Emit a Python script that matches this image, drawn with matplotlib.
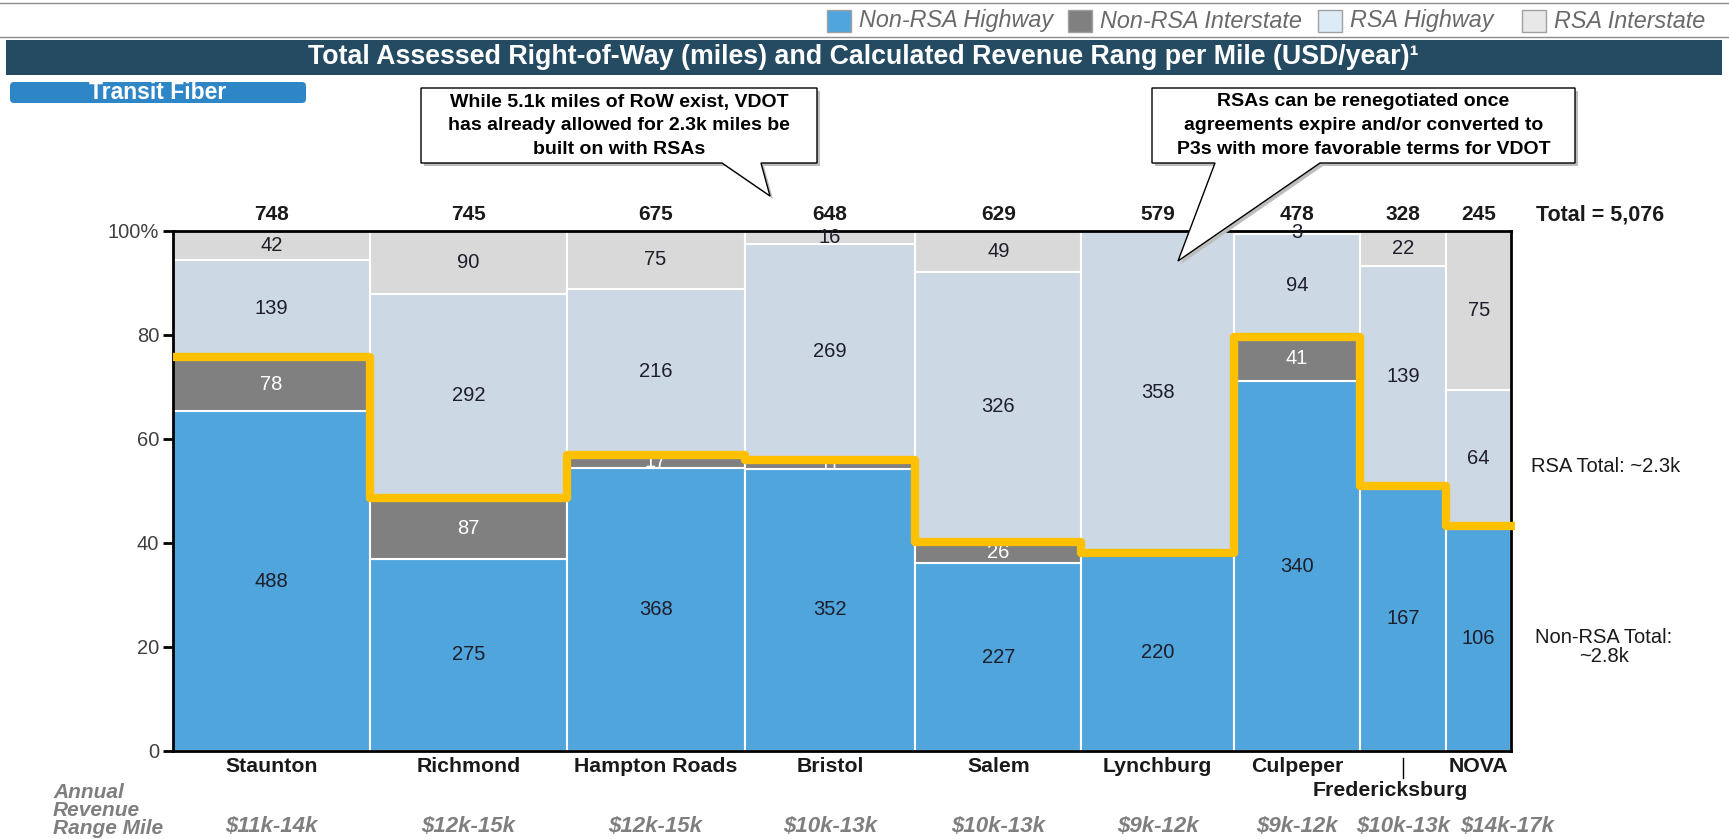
import matplotlib.pyplot as plt
from matplotlib.patches import Rectangle, Polygon, FancyBboxPatch
from matplotlib.transforms import blended_transform_factory

plt.rcParams['font.family'] = ['Liberation Sans', 'DejaVu Sans']

regions = ["Staunton", "Richmond", "Hampton Roads", "Bristol", "Salem",
           "Lynchburg", "Culpeper", "Fredericksburg", "NOVA"]
totals = [748, 745, 675, 648, 629, 579, 478, 328, 245]
non_rsa_highway = [488, 275, 368, 352, 227, 220, 340, 167, 106]
non_rsa_interstate = [78, 87, 17, 11, 26, 0, 41, 0, 0]
rsa_highway = [139, 292, 216, 269, 326, 358, 94, 139, 64]
rsa_interstate = [42, 90, 75, 16, 49, 0, 3, 22, 75]
revenue_range = ["$11k-14k", "$12k-15k", "$12k-15k", "$10k-13k", "$10k-13k",
                 "$9k-12k", "$9k-12k", "$10k-13k", "$14k-17k"]
series_names = ["Non-RSA Highway", "Non-RSA Interstate", "RSA Highway", "RSA Interstate"]

bar_colors = ["#4FA5DC", "#808080", "#CCD8E3", "#D9D9D9"]
legend_colors = ["#4FA5DC", "#808080", "#DDEBF7", "#E8E8E8"]
label_colors = ["#1E1E2A", "white", "#1E1E2A", "#1E1E2A"]

# small pixel nudges for crowded labels at the right end
name_nudge = {"Fredericksburg": -13}
revenue_nudge = {"NOVA": 28}

W, H = 1729, 839
fig = plt.figure(figsize=(W / 100, H / 100), dpi=100)
ax = fig.add_axes([173 / W, 1 - 751 / H, 1338 / W, 520 / H])

series = [non_rsa_highway, non_rsa_interstate, rsa_highway, rsa_interstate]
lefts = []
x = 0
for t in totals:
    lefts.append(x)
    x += t
grand = x

for i in range(len(regions)):
    seg_sum = sum(s[i] for s in series)
    bottom = 0
    for k, s in enumerate(series):
        v = s[i]
        if v == 0:
            continue
        h = v / seg_sum * 100
        ax.bar(lefts[i], h, totals[i], bottom=bottom, align="edge",
               color=bar_colors[k], edgecolor="white", linewidth=1.5, zorder=2)
        ax.text(lefts[i] + totals[i] / 2, bottom + h / 2, str(v), ha="center", va="center",
                fontsize=14.5, color=label_colors[k], zorder=3)
        bottom += h

# non-RSA outline (yellow step)
step_x = []
step_y = []
for i in range(len(regions)):
    seg_sum = sum(s[i] for s in series)
    frac = (non_rsa_highway[i] + non_rsa_interstate[i]) / seg_sum * 100
    step_x += [lefts[i], lefts[i] + totals[i]]
    step_y += [frac, frac]
step_x[-1] = grand * 1.003
ax.plot(step_x, step_y, color="#FFC000", linewidth=6, solid_joinstyle="round",
        solid_capstyle="butt", zorder=4, clip_on=False)

ax.set_xlim(0, grand)
ax.set_ylim(0, 100)
ax.set_xticks([])
ax.set_yticks([0, 20, 40, 60, 80, 100])
ax.set_yticklabels(["0", "20", "40", "60", "80", "100%"])
ax.tick_params(axis="y", direction="out", length=7, width=2, labelsize=14.5,
               labelcolor="#404040", pad=3)
for sp in ax.spines.values():
    sp.set_linewidth(2)
    sp.set_color("black")

# overlay in pixel coordinates
over = fig.add_axes([0, 0, 1, 1], zorder=5)
over.set_xlim(0, W)
over.set_ylim(H, 0)
over.axis("off")
bt = blended_transform_factory(ax.transData, over.transData)

over.plot([0, W], [3, 3], color="#8C8C8C", linewidth=1)
over.plot([0, W], [37, 37], color="#8C8C8C", linewidth=1)

# legend
leg_x = [827, 1068, 1318, 1522]
for k, name in enumerate(series_names):
    over.add_patch(Rectangle((leg_x[k], 10), 24, 22, facecolor=legend_colors[k],
                             edgecolor="#A0A0A0", linewidth=1))
    over.text(leg_x[k] + 32, 21, name, ha="left", va="center", fontsize=16.8,
              style="italic", color="#6A6A6A")

# title bar
over.add_patch(Rectangle((6, 40), 1716, 35, facecolor="#254B63", edgecolor="none"))
over.text(863, 57.5, "Total Assessed Right-of-Way (miles) and Calculated Revenue Rang per Mile (USD/year)\u00b9",
          ha="center", va="center", fontsize=19.3, fontweight="bold", color="white")

# transit fiber pill
over.add_patch(FancyBboxPatch((10, 82), 296, 21, boxstyle="round,pad=0,rounding_size=4",
                              facecolor="#2F86C6", edgecolor="none"))
over.text(158, 92.5, "Transit Fiber", ha="center", va="center", fontsize=16.5,
          fontweight="bold", color="white")


def callout(box, tail, text):
    x0, x1, y0, y1 = box
    pts = [(x0, y0), (x1, y0), (x1, y1), (tail[1], y1), tail[2], (tail[0], y1), (x0, y1)]
    shadow = [(px + 3, py + 3) for px, py in pts]
    over.add_patch(Polygon(shadow, closed=True, facecolor="#BDBDBD", edgecolor="none"))
    over.add_patch(Polygon(pts, closed=True, facecolor="white", edgecolor="black", linewidth=1))
    over.text((x0 + x1) / 2, (y0 + y1) / 2, text, ha="center", va="center", fontsize=14,
              fontweight="bold", color="black", linespacing=1.5)


callout((421, 817, 88, 163), (722, 761, (770, 196)),
        "While 5.1k miles of RoW exist, VDOT\nhas already allowed for 2.3k miles be\nbuilt on with RSAs")
callout((1152, 1575, 88, 163), (1215, 1320, (1178, 261)),
        "RSAs can be renegotiated once\nagreements expire and/or converted to\nP3s with more favorable terms for VDOT")

# totals above columns, names and revenue ranges below
for i, t in enumerate(totals):
    cx = lefts[i] + totals[i] / 2
    over.text(cx, 215, str(t), transform=bt, ha="center", va="center", fontsize=15,
              fontweight="bold", color="#1A1A1A")
    name = regions[i]
    if name == "Fredericksburg":
        over.plot([cx, cx], [758, 778], transform=bt, color="black", linewidth=1)
        over.annotate(name, (cx, 790), xycoords=bt, xytext=(name_nudge[name], 0),
                      textcoords="offset pixels", ha="center", va="center", fontsize=15.3,
                      fontweight="bold", color="#1A1A1A")
    else:
        over.text(cx, 766, name, transform=bt, ha="center", va="center", fontsize=15.3,
                  fontweight="bold", color="#1A1A1A")
    over.annotate(revenue_range[i], (cx, 826), xycoords=bt,
                  xytext=(revenue_nudge.get(name, 0), 0), textcoords="offset pixels",
                  ha="center", va="center", fontsize=16, fontweight="bold",
                  style="italic", color="#7F7F7F")

for j, word in enumerate(["Annual", "Revenue", "Range Mile"]):
    over.text(53, [792, 811, 829][j], word, ha="left", va="center", fontsize=15,
              fontweight="bold", style="italic", color="#7F7F7F")

over.text(1536, 215, "Total = 5,076", ha="left", va="center", fontsize=15.5,
          fontweight="bold", color="#1A1A1A")
over.text(1531, 466, "RSA Total: ~2.3k", ha="left", va="center", fontsize=14.5, color="#1A1A1A")
over.text(1604, 647, "Non-RSA Total:\n~2.8k", ha="center", va="center", fontsize=14.5,
          color="#1A1A1A", linespacing=1.0)

fig.savefig("out.png", dpi=100)
